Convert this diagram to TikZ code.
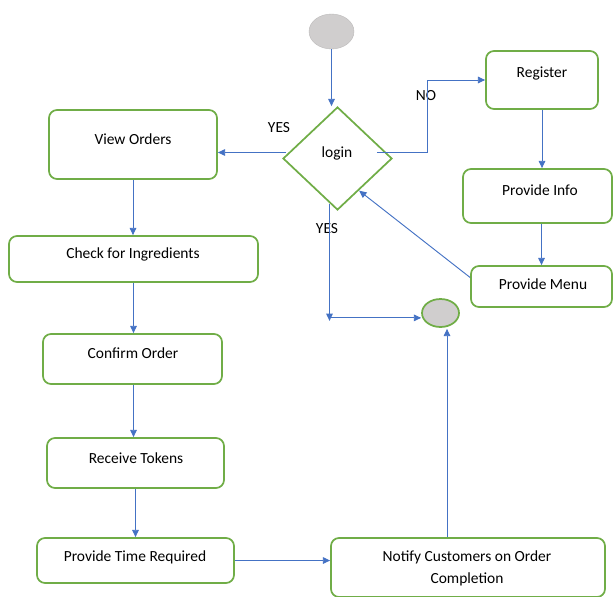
\documentclass[tikz,border=0pt]{standalone}
\usepackage{fontspec}
\setmainfont{Carlito}
\usetikzlibrary{arrows.meta,shapes.geometric,fit,calc}
\definecolor{boxgreen}{HTML}{70AD47}
\definecolor{lineblue}{HTML}{4472C4}
\definecolor{dotgray}{HTML}{D0CECE}
\begin{document}
\begin{tikzpicture}[x=0.75pt,y=-0.75pt,
  box/.style={draw=boxgreen,line width=1.3pt,rounded corners=6pt,inner sep=0pt},
  txt/.style={font=\fontsize{11.6}{16.5}\selectfont,inner sep=0pt},
  arr/.style={draw=lineblue,line width=0.7pt,-{Triangle[length=5.5pt,width=5pt]}},
  conn/.style={draw=lineblue,line width=0.7pt}]
\useasboundingbox (0,0) rectangle (613,596);
% terminals
\node[ellipse,fill=dotgray,draw=dotgray!90!black,line width=0.3pt,minimum width=45*0.75pt,minimum height=35*0.75pt,inner sep=0pt] (start) at (331.5,31.5) {};
\node[ellipse,fill=dotgray,draw=boxgreen,line width=1.3pt,minimum width=37*0.75pt,minimum height=28*0.75pt,inner sep=0pt] (end) at (440.5,313) {};
% decision
\node[diamond,draw=boxgreen,line width=1.3pt,minimum width=109*0.75pt,minimum height=103*0.75pt,inner sep=0pt] (login) at (337.5,158.5) {};
\node[txt] at (337,153) {login};
% boxes
\node[box,fit={(486,51) (598,109)}] (register) {};
\node[txt] at (542,74) {Register};
\node[box,fit={(463,169) (612,223)}] (info) {};
\node[txt] at (540,190) {Provide Info};
\node[box,fit={(471,266) (612,307)}] (menu) {};
\node[txt] at (543,284) {Provide Menu};
\node[box,fit={(49,110) (217,179)}] (view) {};
\node[txt] at (133,139) {View Orders};
\node[box,fit={(9,236) (258,282)}] (check) {};
\node[txt] at (133,254) {Check for Ingredients};
\node[box,fit={(43,334) (222,384)}] (confirm) {};
\node[txt] at (133,353) {Confirm Order};
\node[box,fit={(47,438) (224,488)}] (receive) {};
\node[txt] at (136,458) {Receive Tokens};
\node[box,fit={(37,538) (234,583)}] (ptime) {};
\node[txt] at (135,557) {Provide Time Required};
\node[box,fit={(331,538) (605,597)}] (notify) {};
\node[txt,align=center] at (467,568) {Notify Customers on Order\\Completion};
% labels
\node[txt] at (279,128) {YES};
\node[txt] at (426,96) {NO};
\node[txt] at (327,229) {YES};
% connectors
\draw[arr] (start.south) -- (start.south |- login.north);
\coordinate (yesL) at ($(login.west)+(4,-6)$);
\draw[arr] (yesL) -- (yesL -| view.east);
\coordinate (noS) at ($(login.east)+(-16,-6)$);
\draw[arr] (noS) -- ++(51,0) |- (register.west);
\draw[arr] (register.south) -- (register.south |- info.north);
\draw[arr] (menu.north |- info.south) -- (menu.north);
\draw[arr] ($(menu.west)+(0,-9)$) -- ($(login.south east)+(-6,6)$);
\coordinate (yd) at ($(login.south)+(-8,-7)$);
\coordinate (c1) at ($(yd)+(0,117)$);
\draw[arr] (yd) -- (c1);
\coordinate (c2) at ($(c1)+(0,-3)$);
\draw[arr] (c2) -- (c2 -| end.west);
\draw[arr] (view.south) -- (view.south |- check.north);
\draw[arr] (check.south) -- (check.south |- confirm.north);
\draw[arr] (check.south |- confirm.south) -- (check.south |- receive.north);
\draw[arr] (receive.south) -- (receive.south |- ptime.north);
\draw[arr] (ptime.east) -- (ptime.east -| notify.west);
\coordinate (nt) at ($(end.south)+(6.5,1)$);
\draw[arr] (nt |- notify.north) -- (nt);
\end{tikzpicture}
\end{document}
